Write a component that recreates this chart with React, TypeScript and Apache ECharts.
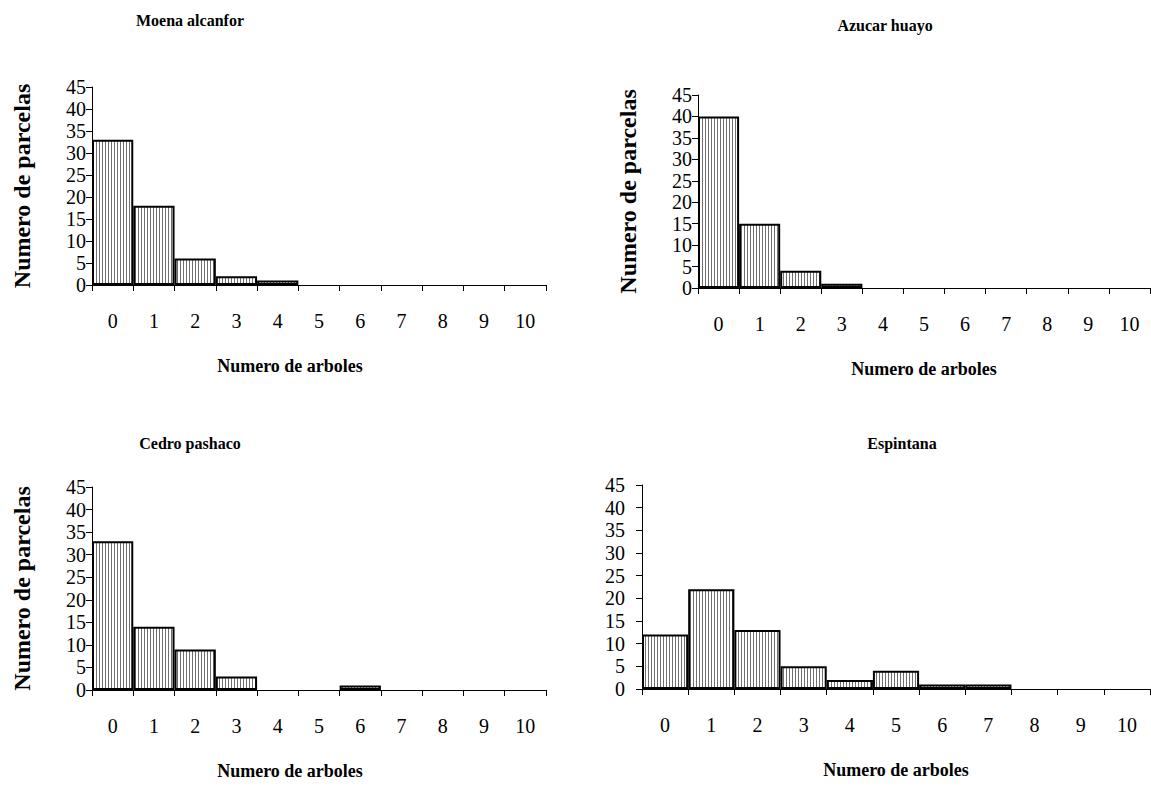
import React, { useEffect, useRef } from "react";
import * as echarts from "echarts";

const categories = ["0", "1", "2", "3", "4", "5", "6", "7", "8", "9", "10"];
const yTicks = [0, 5, 10, 15, 20, 25, 30, 35, 40, 45];

const titles = ["Moena alcanfor", "Azucar huayo", "Cedro pashaco", "Espintana"];
const moenaAlcanfor = [33, 18, 6, 2, 1, 0, 0, 0, 0, 0, 0];
const azucarHuayo = [40, 15, 4, 1, 0, 0, 0, 0, 0, 0, 0];
const cedroPashaco = [33, 14, 9, 3, 0, 0, 1, 0, 0, 0, 0];
const espintana = [12, 22, 13, 5, 2, 4, 1, 1, 0, 0, 0];

const xName = "Numero de arboles";
const yName = "Numero de parcelas";

const FONT = "Liberation Serif";

function makePattern() {
  const c = document.createElement("canvas");
  c.width = 3;
  c.height = 4;
  const ctx = c.getContext("2d")!;
  ctx.fillStyle = "#ffffff";
  ctx.fillRect(0, 0, 3, 4);
  ctx.fillStyle = "#707070";
  ctx.fillRect(0, 0, 1, 4);
  return { image: c, repeat: "repeat", imageWidth: 3, imageHeight: 4 } as any;
}

export default function App() {
  const ref = useRef<HTMLDivElement>(null);
  useEffect(() => {
    if (!ref.current) return;
    const chart = echarts.init(ref.current, null, { renderer: "svg" });
    const pattern = makePattern();

    const grids = [
      { left: 92, top: 87, width: 454, height: 198 },
      { left: 698, top: 95, width: 452, height: 193 },
      { left: 92, top: 487, width: 454, height: 203 },
      { left: 642, top: 485, width: 508, height: 204 },
    ];
    const titlePos = [
      { x: 185, y: 20 },
      { x: 880, y: 25 },
      { x: 185, y: 443 },
      { x: 897, y: 443 },
    ];
    const xNameShift = [58, 0, 58, 0];
    const yLabelMargin = [6, 6, 6, 17];
    const showYName = [true, true, true, false];
    const datasets = [moenaAlcanfor, azucarHuayo, cedroPashaco, espintana];

    const option: any = {
      animation: false,
      backgroundColor: "#ffffff",
      textStyle: { fontFamily: FONT },
      title: titles.map((t, i) => ({
        text: t,
        left: titlePos[i].x,
        top: titlePos[i].y - 13,
        textAlign: "center",
        textStyle: { fontFamily: FONT, fontWeight: "bold", fontSize: 16, color: "#000" },
      })),
      grid: grids.map((g) => ({ ...g, containLabel: false })),
      xAxis: grids.map((_, i) => ({
        type: "category",
        gridIndex: i,
        data: categories,
        boundaryGap: true,
        axisLine: { show: true, lineStyle: { color: "#000", width: 1 } },
        axisTick: { show: true, length: 6, inside: false, lineStyle: { color: "#000" } },
        axisLabel: { fontFamily: FONT, fontSize: 20, color: "#000", margin: 26, interval: 0 },
        splitLine: { show: false },
        name: xName,
        nameLocation: "middle",
        nameGap: 72,
        nameTextStyle: {
          fontFamily: FONT,
          fontWeight: "bold",
          fontSize: 18,
          color: "#000",
          padding: [0, xNameShift[i], 0, 0],
        },
      })),
      yAxis: grids.map((_, i) => ({
        type: "value",
        gridIndex: i,
        min: 0,
        max: 45,
        interval: 5,
        axisLine: { show: true, lineStyle: { color: "#000", width: 1 } },
        axisTick: { show: true, length: 6, lineStyle: { color: "#000" } },
        axisLabel: {
          fontFamily: FONT,
          fontSize: 20,
          lineHeight: 19,
          color: "#000",
          margin: yLabelMargin[i],
          formatter: (v: number) => (yTicks.includes(v) ? String(v) : ""),
        },
        splitLine: { show: false },
        name: showYName[i] ? yName : "",
        nameLocation: "middle",
        nameGap: 58,
        nameTextStyle: { fontFamily: FONT, fontWeight: "bold", fontSize: 24, color: "#000" },
      })),
      series: datasets.map((d, i) => ({
        type: "bar",
        xAxisIndex: i,
        yAxisIndex: i,
        barCategoryGap: "0%",
        data: d.map((v) => (v === 0 ? "-" : v)),
        itemStyle: { color: pattern, borderColor: "#000", borderWidth: 2 },
      })),
    };
    chart.setOption(option);
    return () => chart.dispose();
  }, []);
  return <div ref={ref} style={{ width: 1151, height: 786, position: "absolute", left: 0, top: 0 }} />;
}
